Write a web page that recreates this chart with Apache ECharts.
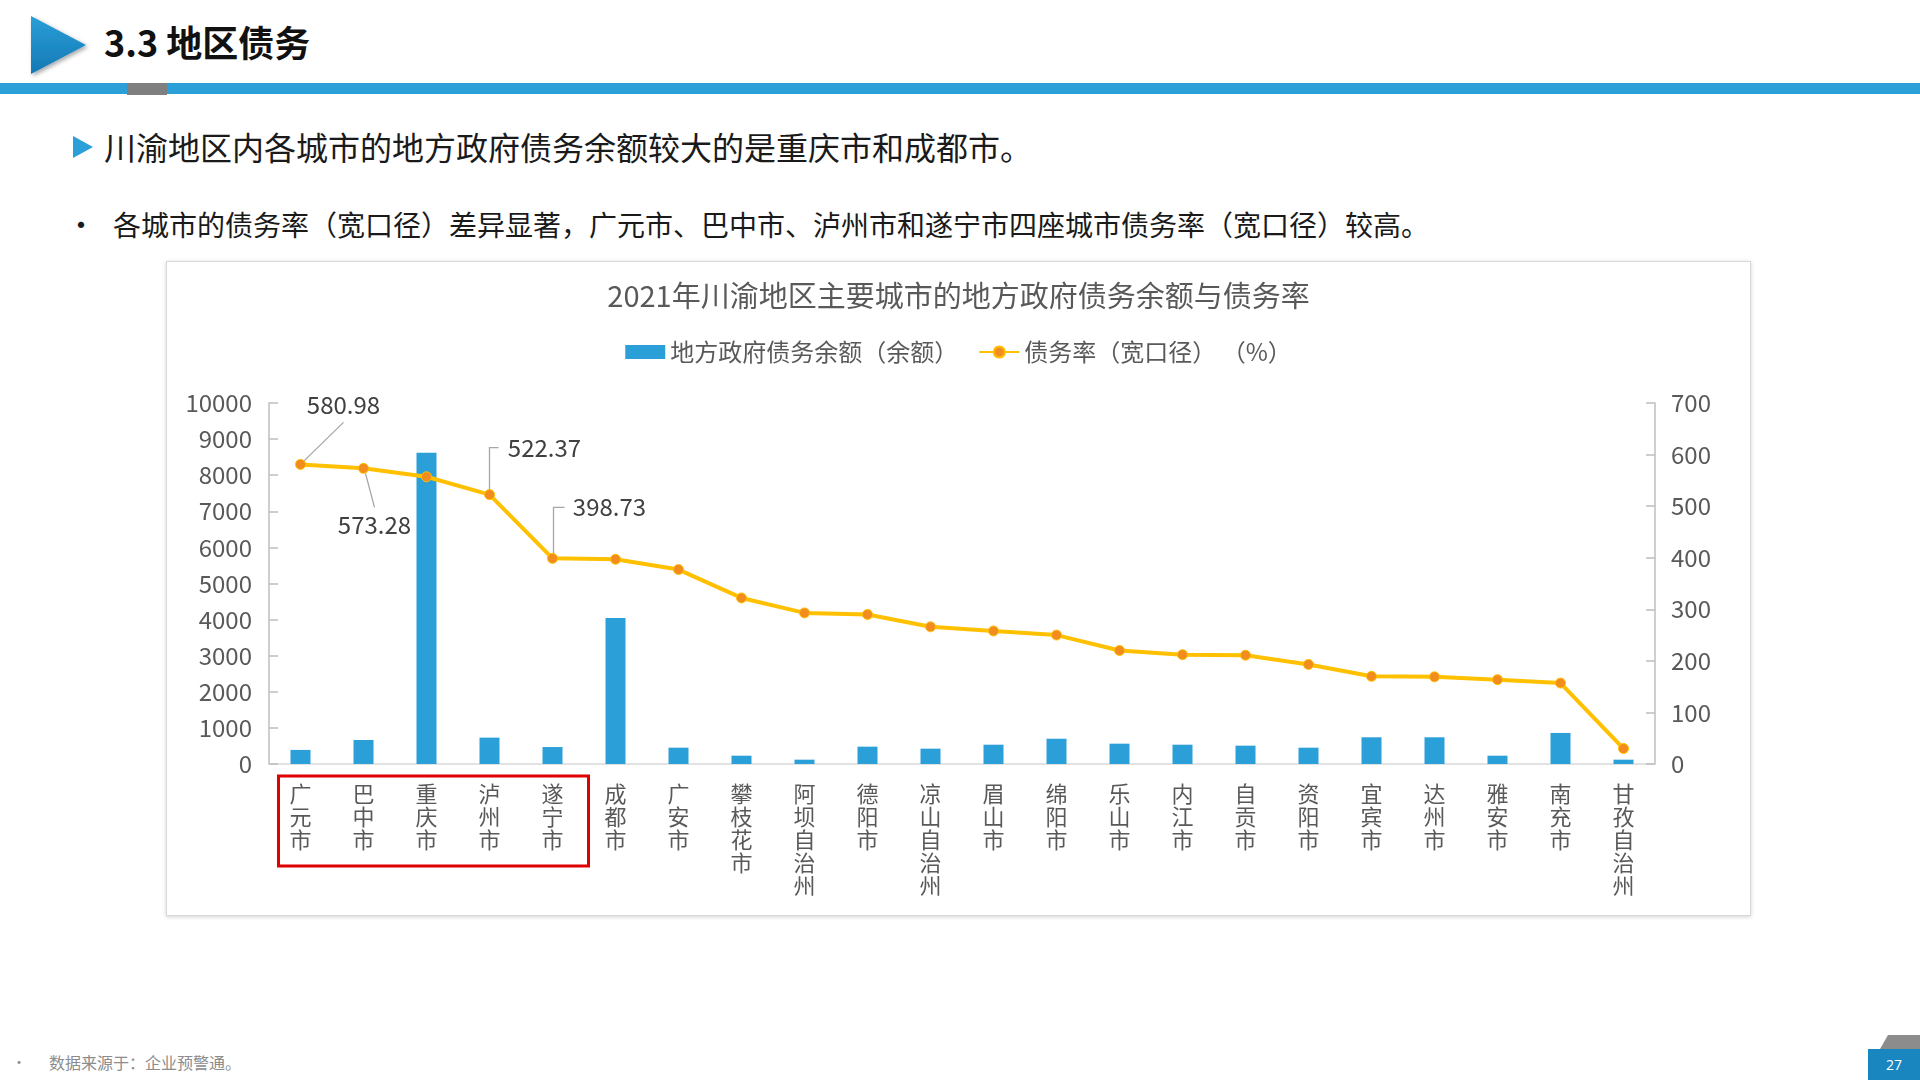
<!DOCTYPE html>
<html>
<head>
<meta charset="utf-8">
<title>3.3 地区债务</title>
<script src="https://cdn.jsdelivr.net/npm/echarts@6/dist/echarts.min.js"></script>
<style>
    html, body { margin: 0; padding: 0; }
    body {
        width: 1920px; height: 1080px; position: relative; overflow: hidden;
        background: #fff; font-family: "Noto Sans CJK SC", sans-serif;
    }
    .head-tri { position: absolute; left: 24px; top: 12px; }
    .head-title {
        position: absolute; left: 104px; top: 16px; font-size: 36px; font-weight: bold;
        color: #111; line-height: 50px;
    }
    .head-bar { position: absolute; left: 0; top: 83px; width: 1920px; height: 11px; background: #2a9fd8; }
    .head-gray { position: absolute; left: 127px; top: 83px; width: 40px; height: 12px; background: #7f7f7f; }
    .tri1 {
        position: absolute; left: 73px; top: 136px; width: 0; height: 0;
        border-left: 20px solid #2a9fd8; border-top: 11px solid transparent; border-bottom: 11px solid transparent;
    }
    .line1 { position: absolute; left: 104px; top: 125px; font-size: 32px; line-height: 42px; color: #1a1a1a; }
    .dot2 { position: absolute; left: 66px; top: 203px; font-size: 30px; line-height: 40px; color: #1a1a1a; }
    .line2 { position: absolute; left: 113px; top: 204px; font-size: 28px; line-height: 40px; color: #1a1a1a; }
    .box {
        position: absolute; left: 166px; top: 261px; width: 1585px; height: 655px;
        box-sizing: border-box; border: 1px solid #d9d9d9; background: #fff;
        box-shadow: 0 1px 4px rgba(0, 0, 0, 0.18);
    }
    #chart { width: 100%; height: 100%; }
    .foot-dot { position: absolute; left: 12px; top: 1051px; font-size: 14px; line-height: 20px; color: #8c8c8c; }
    .foot { position: absolute; left: 49px; top: 1052px; font-size: 16px; line-height: 20px; color: #8c8c8c; }
    .page-tab { position: absolute; left: 1878px; top: 1035px; }
    .page-num {
        position: absolute; left: 1868px; top: 1049px; width: 52px; height: 31px; background: #1a86c0;
        color: #fff; font-size: 14px; line-height: 31px; text-align: center; font-family: "Open Sans", sans-serif;
    }
</style>
</head>
<body>
    <svg class="head-tri" width="72" height="72">
        <defs>
            <linearGradient id="tg" x1="0" y1="0" x2="0" y2="1">
                <stop offset="0" stop-color="#2a9fd8" />
                <stop offset="1" stop-color="#1478b4" />
            </linearGradient>
            <filter id="ts" x="-20%" y="-20%" width="150%" height="150%">
                <feDropShadow dx="2" dy="2" stdDeviation="2" flood-color="#000" flood-opacity="0.35" />
            </filter>
        </defs>
        <polygon points="7,4 62,33 7,62" fill="url(#tg)" filter="url(#ts)" />
    </svg>
    <div class="head-title">3.3 地区债务</div>
    <div class="head-bar"></div>
    <div class="head-gray"></div>

    <div class="tri1"></div>
    <div class="line1">川渝地区内各城市的地方政府债务余额较大的是重庆市和成都市。</div>
    <div class="dot2">•</div>
    <div class="line2">各城市的债务率（宽口径）差异显著，广元市、巴中市、泸州市和遂宁市四座城市债务率（宽口径）较高。</div>

    <div class="box"><div id="chart"></div></div>

    <div class="foot-dot">•</div>
    <div class="foot">数据来源于：企业预警通。</div>
    <svg class="page-tab" width="42" height="14"><polygon points="2,14 10,0 42,0 42,14" fill="#8c8c8c" /></svg>
    <div class="page-num">27</div>

<script>
const cities = ['广元市', '巴中市', '重庆市', '泸州市', '遂宁市', '成都市', '广安市', '攀枝花市', '阿坝自治州', '德阳市', '凉山自治州',
    '眉山市', '绵阳市', '乐山市', '内江市', '自贡市', '资阳市', '宜宾市', '达州市', '雅安市', '南充市', '甘孜自治州']
// 地方政府债务余额（亿元）
const debtValues = [390, 665, 8620, 730, 470, 4045, 452, 230, 120, 480, 425, 535, 700, 563, 535, 508, 452, 740, 740, 230, 860, 120]
// 债务率（宽口径）（%）
const rateValues = [580.98, 573.28, 557, 522.37, 398.73, 397, 377, 322, 293, 290, 266, 258, 250, 220, 212, 211, 193, 170, 169, 163.5, 157, 30]
const debtTicks = [0, 10000, 1000]
const rateTicks = [0, 700, 100]
const labeledIdx = [0, 1, 3, 4]

// 标签相对数据点的偏移, 以及引导线折点
const labelOffset = {0: [43, -60], 1: [11, 57], 3: [55, -47], 4: [57, -51]}
const guidePoints = {
    0: [[3, -3], [43, -42]],
    1: [[2, 5], [11, 39]],
    3: [[0, -5], [0, -47], [9, -47]],
    4: [[1, -5], [1, -51], [12, -51]]
}

const textColor = '#595959'
const chart = echarts.init(document.getElementById('chart'))

const rateData = rateValues.map((v, i) => {
    if (labeledIdx.indexOf(i) < 0) return v
    return {
        value: v,
        label: {
            show: true,
            position: 'inside',
            offset: labelOffset[i],
            fontSize: 24,
            color: '#404040',
            formatter: p => p.value.toFixed(2)
        }
    }
})

const option = {
    animation: false,
    textStyle: {fontFamily: '"Noto Sans CJK SC", sans-serif'},
    title: {
        text: '2021年川渝地区主要城市的地方政府债务余额与债务率',
        left: 'center',
        top: 19,
        padding: 0,
        textStyle: {fontSize: 29, fontWeight: 'normal', color: textColor}
    },
    legend: {
        top: 78,
        left: 'center',
        padding: 0,
        itemGap: 20,
        itemWidth: 40,
        itemHeight: 14,
        textStyle: {fontSize: 24, color: textColor},
        data: [{name: '地方政府债务余额（余额）', icon: 'rect'}, {name: '债务率（宽口径） （%）'}]
    },
    grid: {left: 102, right: 95, top: 141, bottom: 151},
    xAxis: {
        type: 'category',
        data: cities,
        axisLine: {lineStyle: {color: '#d9d9d9', width: 1.5}},
        axisTick: {show: false},
        axisLabel: {
            interval: 0,
            margin: 18,
            fontSize: 22,
            lineHeight: 23,
            color: textColor,
            formatter: v => v.split('').join('\n')
        }
    },
    yAxis: [{
        type: 'value',
        min: debtTicks[0],
        max: debtTicks[1],
        interval: debtTicks[2],
        axisLine: {show: true, lineStyle: {color: '#bfbfbf', width: 1.5}},
        axisTick: {show: true, inside: true, length: 9, lineStyle: {color: '#bfbfbf', width: 1.5}},
        splitLine: {show: false},
        axisLabel: {fontSize: 24, color: textColor, margin: 17, formatter: v => String(v)}
    }, {
        type: 'value',
        min: rateTicks[0],
        max: rateTicks[1],
        interval: rateTicks[2],
        axisLine: {show: true, lineStyle: {color: '#bfbfbf', width: 1.5}},
        axisTick: {show: true, inside: true, length: 9, lineStyle: {color: '#bfbfbf', width: 1.5}},
        splitLine: {show: false},
        axisLabel: {fontSize: 24, color: textColor, margin: 16, formatter: v => String(v)}
    }],
    series: [{
        name: '地方政府债务余额（余额）',
        type: 'bar',
        barWidth: 20,
        itemStyle: {color: '#2a9fd8'},
        data: debtValues
    }, {
        name: '债务率（宽口径） （%）',
        type: 'line',
        yAxisIndex: 1,
        symbol: 'circle',
        symbolSize: 10,
        lineStyle: {color: '#ffc000', width: 4},
        itemStyle: {color: '#f28c1e', borderColor: '#ffc000', borderWidth: 1},
        label: {show: false},
        data: rateData
    }]
}
chart.setOption(option)

// 引导线与红框按坐标轴换算出的位置绘制
const graphics = []
labeledIdx.forEach(i => {
    const p = chart.convertToPixel({seriesIndex: 1}, [i, rateValues[i]])
    graphics.push({
        type: 'polyline',
        z: 1,
        silent: true,
        shape: {points: guidePoints[i].map(d => [p[0] + d[0], p[1] + d[1]])},
        style: {stroke: '#a6a6a6', lineWidth: 1.3, fill: null}
    })
})
const x0 = chart.convertToPixel({xAxisIndex: 0}, 0)
const x4 = chart.convertToPixel({xAxisIndex: 0}, 4)
const yBase = chart.convertToPixel({yAxisIndex: 0}, 0)
graphics.push({
    type: 'rect',
    silent: true,
    shape: {x: x0 - 22, y: yBase + 12, width: (x4 + 36) - (x0 - 22), height: 90},
    style: {stroke: '#e00000', lineWidth: 3, fill: null}
})
chart.setOption({graphic: graphics})
</script>
</body>
</html>
